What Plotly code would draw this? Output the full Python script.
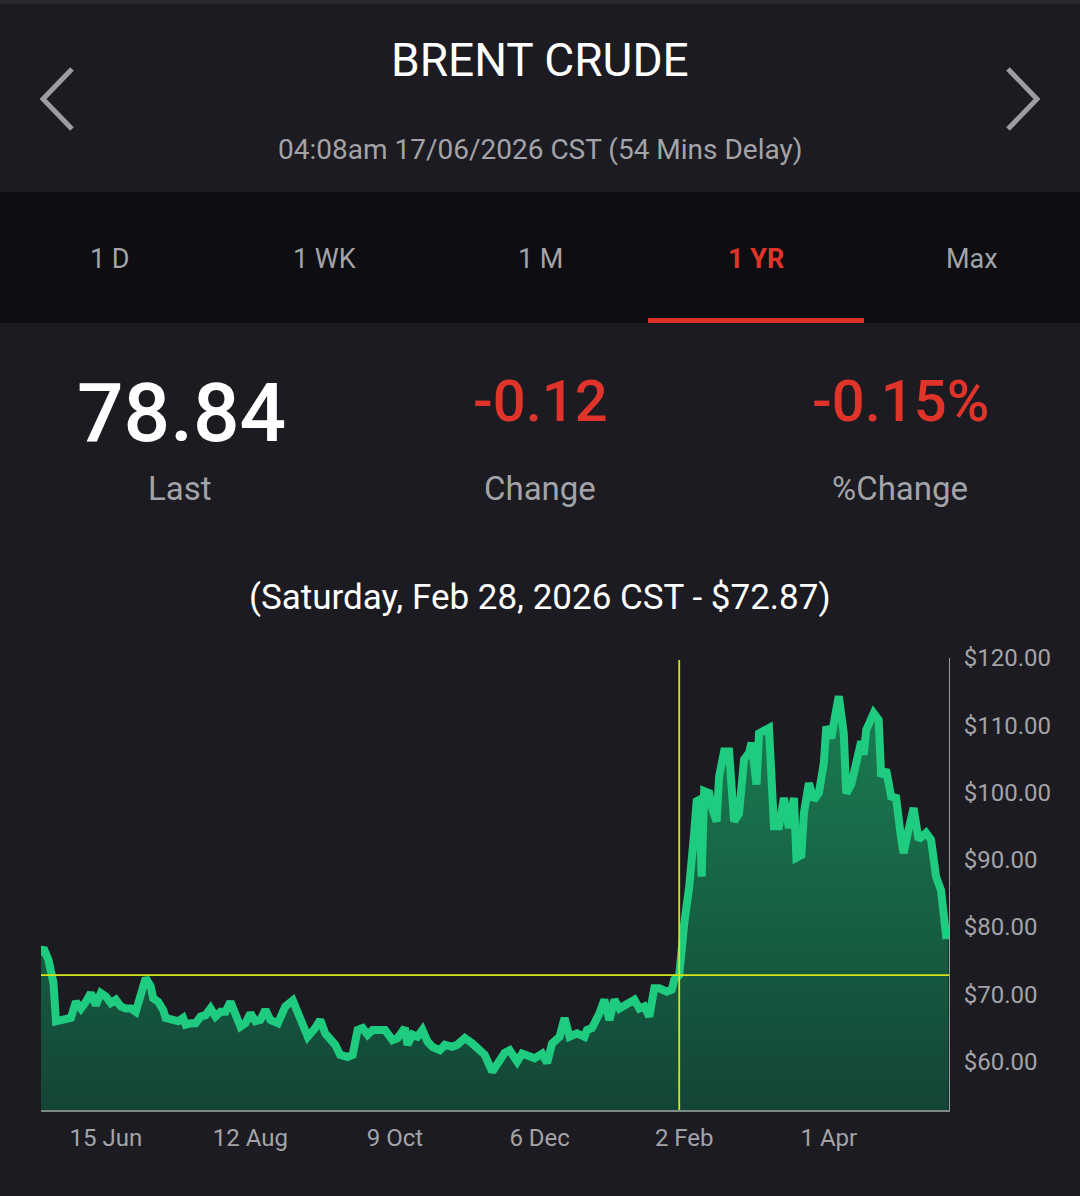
import plotly.graph_objects as go

# ---------------- data ----------------
dates = [
    "2025-05-20", "2025-05-21", "2025-05-23", "2025-05-25", "2025-05-26", "2025-05-28",
    "2025-06-01", "2025-06-03", "2025-06-05", "2025-06-07", "2025-06-09", "2025-06-11",
    "2025-06-13", "2025-06-15", "2025-06-17", "2025-06-19", "2025-06-21", "2025-06-23",
    "2025-06-25", "2025-06-27", "2025-06-29", "2025-07-01", "2025-07-03", "2025-07-04",
    "2025-07-06", "2025-07-08", "2025-07-09", "2025-07-11", "2025-07-14", "2025-07-16",
    "2025-07-17", "2025-07-19", "2025-07-21", "2025-07-23", "2025-07-25", "2025-07-27",
    "2025-07-29", "2025-07-31", "2025-08-02", "2025-08-04", "2025-08-06", "2025-08-08",
    "2025-08-10", "2025-08-12", "2025-08-14", "2025-08-16", "2025-08-18", "2025-08-20",
    "2025-08-23", "2025-08-26", "2025-08-29", "2025-08-31", "2025-09-02", "2025-09-04",
    "2025-09-07", "2025-09-09", "2025-09-11", "2025-09-13", "2025-09-15", "2025-09-17",
    "2025-09-20", "2025-09-22", "2025-09-24", "2025-09-26", "2025-09-28", "2025-09-30",
    "2025-10-02", "2025-10-05", "2025-10-08", "2025-10-10", "2025-10-13", "2025-10-14",
    "2025-10-16", "2025-10-18", "2025-10-20", "2025-10-22", "2025-10-24", "2025-10-27",
    "2025-10-29", "2025-11-01", "2025-11-03", "2025-11-06", "2025-11-09", "2025-11-11",
    "2025-11-14", "2025-11-17", "2025-11-19", "2025-11-22", "2025-11-24", "2025-11-27",
    "2025-11-29", "2025-12-01", "2025-12-04", "2025-12-07", "2025-12-09", "2025-12-11",
    "2025-12-14", "2025-12-16", "2025-12-18", "2025-12-21", "2025-12-24", "2025-12-25",
    "2025-12-27", "2025-12-30", "2026-01-01", "2026-01-03", "2026-01-05", "2026-01-07",
    "2026-01-10", "2026-01-13", "2026-01-15", "2026-01-17", "2026-01-19", "2026-01-21",
    "2026-01-23", "2026-01-26", "2026-01-28", "2026-01-29", "2026-01-31", "2026-02-01",
    "2026-02-02", "2026-02-04", "2026-02-05", "2026-02-06", "2026-02-07", "2026-02-08",
    "2026-02-09", "2026-02-10", "2026-02-12", "2026-02-13", "2026-02-15", "2026-02-16",
    "2026-02-18", "2026-02-20", "2026-02-22", "2026-02-24", "2026-02-26", "2026-02-28",
    "2026-03-01", "2026-03-03", "2026-03-04", "2026-03-06", "2026-03-08", "2026-03-10",
    "2026-03-12", "2026-03-14", "2026-03-16", "2026-03-18", "2026-03-19", "2026-03-21",
    "2026-03-22", "2026-03-24", "2026-03-26", "2026-03-28", "2026-03-30", "2026-03-31",
    "2026-04-02", "2026-04-03", "2026-04-05", "2026-04-07", "2026-04-08", "2026-04-10",
    "2026-04-12", "2026-04-14", "2026-04-15", "2026-04-16", "2026-04-19", "2026-04-21",
    "2026-04-22", "2026-04-24", "2026-04-26", "2026-04-28", "2026-04-30", "2026-05-01",
    "2026-05-03", "2026-05-05", "2026-05-07", "2026-05-09", "2026-05-10", "2026-05-12",
    "2026-05-14", "2026-05-16", "2026-05-18", "2026-05-19",
]
prices = [
    76.4, 76.9, 75.1, 71.7, 66.0, 66.2,
    66.5, 68.9, 67.9, 68.9, 70.2, 68.4,
    70.2, 69.7, 68.7, 69.2, 68.2, 67.9,
    67.9, 67.4, 69.7, 72.4, 71.2, 69.4,
    68.9, 67.7, 66.5, 66.2, 66.0, 66.5,
    65.5, 65.7, 65.7, 66.7, 66.9, 67.9,
    66.7, 67.4, 67.4, 68.9, 66.9, 65.2,
    65.7, 67.2, 66.0, 66.2, 67.7, 66.2,
    65.7, 68.2, 69.1, 67.4, 65.2, 63.7,
    65.0, 66.2, 64.2, 63.2, 62.5, 61.0,
    60.7, 61.0, 64.7, 65.0, 64.0, 64.7,
    64.7, 64.7, 63.2, 63.5, 65.0, 62.5,
    64.0, 63.7, 64.7, 63.0, 62.2, 61.7,
    62.5, 62.2, 62.5, 63.5, 62.7, 62.0,
    61.0, 58.5, 59.8, 61.3, 61.7, 60.0,
    61.2, 61.0, 60.5, 61.2, 59.8, 62.7,
    63.7, 66.5, 63.7, 64.2, 63.7, 64.7,
    65.0, 67.2, 69.2, 66.2, 69.2, 67.9,
    68.4, 69.2, 67.9, 68.2, 66.7, 70.9,
    70.9, 70.4, 70.7, 72.2, 72.87, 77.3,
    80.5, 86.0, 92.5, 94.0, 98.7, 98.9,
    87.5, 100.2, 99.9, 97.9, 95.7, 102.4,
    106.1, 106.1, 95.7, 96.9, 104.9, 105.9,
    107.4, 101.2, 108.8, 109.1, 109.6, 95.0,
    95.0, 99.2, 94.7, 99.2, 90.3, 90.7,
    96.9, 101.4, 98.9, 99.9, 104.4, 109.8,
    108.1, 110.3, 114.3, 108.8, 99.9, 101.2,
    103.9, 107.6, 105.6, 109.3, 111.8, 110.8,
    102.4, 103.4, 99.4, 99.2, 93.2, 91.0,
    94.5, 97.7, 93.0, 93.7, 94.0, 93.0,
    87.5, 85.5, 78.8, 78.84,
]
selected_date = "2026-01-31"      # crosshair point
selected_price = 72.87

tick_dates = ["2025-06-15", "2025-08-12", "2025-10-09", "2025-12-06", "2026-02-02", "2026-04-01"]
tick_labels = ["15 Jun", "12 Aug", "9 Oct", "6 Dec", "2 Feb", "1 Apr"]
price_ticks = [60, 70, 80, 90, 100, 110, 120]
price_labels = ["$60.00", "$70.00", "$80.00", "$90.00", "$100.00", "$110.00", "$120.00"]

title = "BRENT CRUDE"
subtitle = "04:08am 17/06/2026 CST (54 Mins Delay)"
tabs = ["1 D", "1 WK", "1 M", "1 YR", "Max"]
active_tab = "1 YR"
last_value = "78.84"
change_value = "-0.12"
pct_change_value = "-0.15%"
stat_labels = ["Last", "Change", "%Change"]
hover_text = "(Saturday, Feb 28, 2026 CST - $72.87)"

# ---------------- layout geometry ----------------
W, H = 1080, 1196
L, R, T, B = 41, 949, 658, 1110
PW, PH = R - L, B - T


def px(x):
    return (x - L) / PW


def py(y):
    return (B - y) / PH


BG = "#1c1b21"
TAB_BG = "#0e0d11"
GRAY = "#a3a3a8"
RED = "#e0342b"
GREEN = "#1fcb7f"
CROSS = "#d2e61a"
FONT = "Roboto"

fig = go.Figure()

fig.add_trace(go.Scatter(
    x=dates, y=prices, mode="lines",
    line=dict(color=GREEN, width=8),
    fill="tozeroy",
    fillgradient=dict(type="vertical",
                      colorscale=[[0, "#134536"], [1, "#1a7e52"]],
                      start=52.8, stop=115),
    hoverinfo="skip", showlegend=False,
))
fig.add_trace(go.Scatter(
    x=[dates[0], dates[-1]], y=[prices[0], prices[-1]], mode="markers",
    marker=dict(color=GREEN, size=9),
    hoverinfo="skip", showlegend=False,
))

shapes = [
    # backgrounds
    dict(type="rect", xref="paper", yref="paper", x0=px(0), x1=px(W), y0=py(0), y1=py(4),
         fillcolor="#2a2930", line=dict(width=0), layer="below"),
    dict(type="rect", xref="paper", yref="paper", x0=px(0), x1=px(W), y0=py(192), y1=py(323),
         fillcolor=TAB_BG, line=dict(width=0), layer="below"),
    # active tab underline
    dict(type="rect", xref="paper", yref="paper", x0=px(648), x1=px(864), y0=py(318), y1=py(323),
         fillcolor="#d9302a", line=dict(width=0), layer="below"),
    # navigation chevrons
    dict(type="path", xref="paper", yref="paper",
         path=f"M {px(72)} {py(69)} L {px(43)} {py(99)} L {px(72)} {py(129)}",
         line=dict(color="#9c9ca2", width=5)),
    dict(type="path", xref="paper", yref="paper",
         path=f"M {px(1008)} {py(69)} L {px(1037)} {py(99)} L {px(1008)} {py(129)}",
         line=dict(color="#9c9ca2", width=5)),
    # crosshair
    dict(type="line", xref="x", yref="paper", x0=selected_date, x1=selected_date, y0=0, y1=py(660),
         line=dict(color=CROSS, width=1.8), layer="above"),
    dict(type="line", xref="x domain", yref="y", x0=0, x1=1, y0=selected_price, y1=selected_price,
         line=dict(color=CROSS, width=1.8), layer="above"),
]

tab_x = [110, 324, 540, 756, 972]
annotations = [
    dict(text=title, x=px(540), y=py(60), font=dict(size=46, color="#ffffff", family=FONT)),
    dict(text=subtitle, x=px(540), y=py(150), font=dict(size=28, color=GRAY, family=FONT)),
    dict(text=last_value, x=px(181), y=py(413),
         font=dict(size=82, color="#ffffff", family=FONT, weight=500)),
    dict(text=change_value, x=px(540), y=py(401),
         font=dict(size=58, color=RED, family=FONT, weight=500)),
    dict(text=pct_change_value, x=px(900), y=py(401),
         font=dict(size=58, color=RED, family=FONT, weight=500)),
    dict(text=hover_text, x=px(540), y=py(597), font=dict(size=35, color="#ffffff", family=FONT)),
]
for lbl, cx in zip(stat_labels, [180, 540, 900]):
    annotations.append(dict(text=lbl, x=px(cx), y=py(488),
                            font=dict(size=33, color=GRAY, family=FONT)))
for lbl, cx in zip(tabs, tab_x):
    if lbl == active_tab:
        annotations.append(dict(text=f"<b>{lbl}</b>", x=px(cx), y=py(259),
                                font=dict(size=27, color=RED, family=FONT)))
    else:
        annotations.append(dict(text=lbl, x=px(cx), y=py(259),
                                font=dict(size=27, color=GRAY, family=FONT)))
for a in annotations:
    a.update(xref="paper", yref="paper", showarrow=False, xanchor="center", yanchor="middle")

fig.update_layout(
    width=W, height=H,
    margin=dict(l=L, r=W - R, t=T, b=H - B, pad=0),
    paper_bgcolor=BG, plot_bgcolor=BG,
    font=dict(family=FONT, color=GRAY),
    shapes=shapes, annotations=annotations,
    showlegend=False,
    xaxis=dict(
        type="date",
        range=["2025-05-20", "2026-05-19 05:00"],
        tickvals=tick_dates, ticktext=tick_labels,
        tickfont=dict(size=24, color=GRAY, family=FONT),
        showgrid=False, zeroline=False,
        showline=True, linecolor="#7c8a82", linewidth=1.5,
        ticks="outside", ticklen=5, tickcolor="rgba(0,0,0,0)",
        fixedrange=True,
    ),
    yaxis=dict(
        side="right",
        range=[52.81, 120.0],
        tickvals=price_ticks, ticktext=price_labels,
        tickfont=dict(size=24, color=GRAY, family=FONT),
        showgrid=False, zeroline=False,
        showline=True, linecolor="#9a9aa0", linewidth=1,
        ticks="outside", ticklen=9, tickcolor="rgba(0,0,0,0)",
        fixedrange=True,
    ),
)

fig.write_html("out.html", config={"displayModeBar": False})
